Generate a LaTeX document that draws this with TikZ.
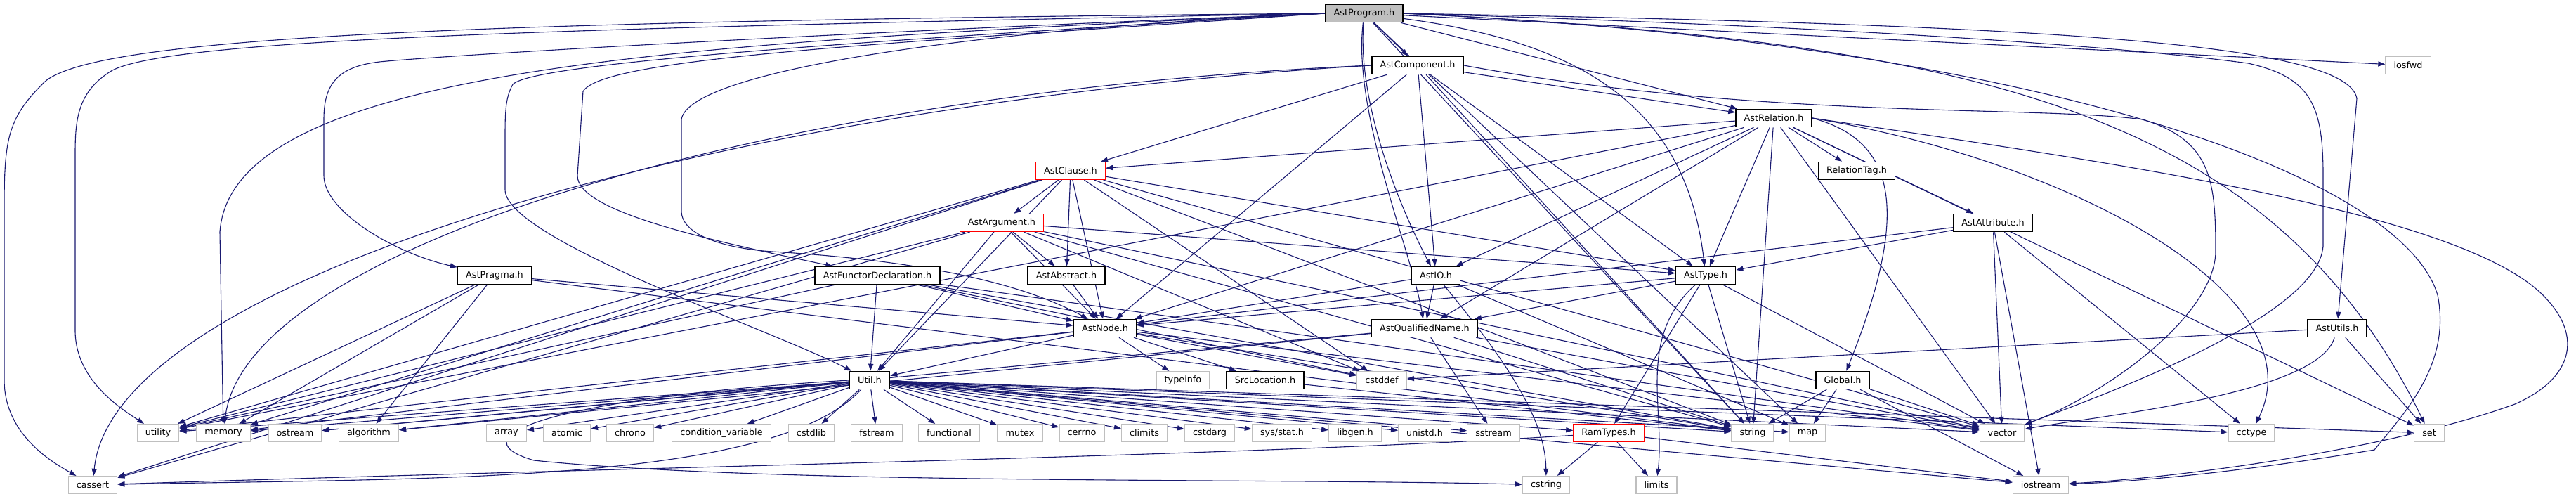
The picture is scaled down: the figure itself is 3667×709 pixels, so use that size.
\documentclass[tikz,border=0pt]{standalone}
\usepackage{fontspec}
\setmainfont{DejaVu Sans}
\usetikzlibrary{arrows.meta,backgrounds}
\definecolor{edgeblue}{HTML}{191970}
\definecolor{sysgray}{HTML}{BFBFBF}
\begin{document}
\begin{tikzpicture}[x=0.5pt,y=-0.5pt,
  every node/.style={font=\fontsize{6.4}{7.5}\selectfont,inner xsep=5.8pt,inner ysep=0pt,minimum height=12.5pt,fill=white},
  hdr/.style={draw=black,line width=.8pt},
  sys/.style={draw=sysgray,line width=.6pt},
  trunc/.style={draw=red,line width=.6pt},
  root/.style={draw=black,line width=.8pt,fill=sysgray},
  dep/.style={draw=edgeblue,line width=.55pt,-{Triangle[length=5pt,width=3.6pt]}}]
\useasboundingbox (0,0) rectangle (3667,709);
% headers of the project
\node[root] (prog) at (1942,19) {AstProgram.h};
\node[hdr] (comp) at (2018,93) {AstComponent.h};
\node[sys] (iosfwd) at (3428,93) {iosfwd};
\node[hdr] (rel) at (2525,168) {AstRelation.h};
\node[trunc] (clause) at (1524,243) {AstClause.h};
\node[hdr] (reltag) at (2643,243) {RelationTag.h};
\node[trunc] (arg) at (1426,317) {AstArgument.h};
\node[hdr] (attr) at (2837,317) {AstAttribute.h};
\node[hdr] (pragma) at (704,392) {AstPragma.h};
\node[hdr] (functor) at (1249,392) {AstFunctorDeclaration.h};
\node[hdr] (abstract) at (1518,392) {AstAbstract.h};
\node[hdr] (io) at (2044,392) {AstIO.h};
\node[hdr] (type) at (2428,392) {AstType.h};
\node[hdr] (astnode) at (1573,467) {AstNode.h};
\node[hdr] (qname) at (2028,467) {AstQualifiedName.h};
\node[hdr] (astutils) at (3327,467) {AstUtils.h};
\node[hdr] (util) at (1238,541) {Util.h};
\node[sys] (typeinfo) at (1684,541) {typeinfo};
\node[hdr] (srcloc) at (1801,541) {SrcLocation.h};
\node[sys] (cstddef) at (1967,541) {cstddef};
\node[hdr] (global) at (2623,541) {Global.h};
% system headers
\node[sys] (utility) at (225,616) {utility};
\node[sys] (memory) at (318,616) {memory};
\node[sys] (ostream) at (420,616) {ostream};
\node[sys] (algorithm) at (525,616) {algorithm};
\node[sys] (array) at (721,616) {array};
\node[sys] (atomic) at (807,616) {atomic};
\node[sys] (chrono) at (897,616) {chrono};
\node[sys] (condvar) at (1027,616) {condition\_variable};
\node[sys] (cstdlib) at (1155,616) {cstdlib};
\node[sys] (fstream) at (1248,616) {fstream};
\node[sys] (functional) at (1351,616) {functional};
\node[sys] (mutex) at (1452,616) {mutex};
\node[sys] (cerrno) at (1540,616) {cerrno};
\node[sys] (climits) at (1629,616) {climits};
\node[sys] (cstdarg) at (1722,616) {cstdarg};
\node[sys] (sysstat) at (1825,616) {sys/stat.h};
\node[sys] (libgen) at (1929,616) {libgen.h};
\node[sys] (unistd) at (2028,616) {unistd.h};
\node[sys] (sstream) at (2126,616) {sstream};
\node[trunc] (ramtypes) at (2290,616) {RamTypes.h};
\node[sys] (string) at (2495,616) {string};
\node[sys] (map) at (2573,616) {map};
\node[sys] (vector) at (2850,616) {vector};
\node[sys] (cctype) at (3205,616) {cctype};
\node[sys] (set) at (3458,616) {set};
\node[sys] (cassert) at (132,690) {cassert};
\node[sys] (cstring) at (2201,690) {cstring};
\node[sys] (limits) at (2358,690) {limits};
\node[sys] (iostream) at (2905,690) {iostream};

\begin{pgfonlayer}{background}
% AstProgram.h
\draw[dep] (prog) -- (comp);
\draw[dep] (prog) -- (rel);
\draw[dep] (prog) .. controls (1932,150) and (1995,300) .. (io);
\draw[dep] (prog) .. controls (1925,160) and (2010,360) .. (qname);
\draw[dep] (prog) .. controls (2250,60) and (2400,150) .. (type);
\draw[dep] (prog) -- (iosfwd);
\draw[dep] (prog) -- (string);
\draw[dep] (prog) -- (map);
\draw[dep] (prog.west) .. controls (700,30) and (120,50) .. (60,120) .. controls (10,170) and (6,200) .. (6,300) -- (6,540) .. controls (6,610) and (60,650) .. (cassert);
\draw[dep] (prog.west) .. controls (800,40) and (250,55) .. (160,100) .. controls (110,130) and (107,170) .. (107,220) -- (107,470) .. controls (107,540) and (170,580) .. (utility);
\draw[dep] (prog.west) .. controls (1000,60) and (330,90) .. (313,330) -- (memory);
\draw[dep] (prog.west) .. controls (1100,50) and (620,80) .. (540,88) .. controls (480,95) and (461,120) .. (461,170) -- (461,250) .. controls (461,300) and (560,360) .. (pragma);
\draw[dep] (prog.west) .. controls (1200,60) and (760,90) .. (730,120) .. controls (719,140) and (719,160) .. (719,200) -- (719,270) .. controls (719,340) and (1100,470) .. (util);
\draw[dep] (prog.west) .. controls (1300,60) and (860,80) .. (830,130) -- (822,250) .. controls (822,300) and (1000,340) .. (functor);
\draw[dep] (prog.west) .. controls (1400,40) and (980,100) .. (970,170) -- (970,300) .. controls (970,340) and (1050,355) .. (1100,358) .. controls (1300,370) and (1450,400) .. (astnode);
\draw[dep] (prog.east) .. controls (2900,35) and (3340,60) .. (3355,140) -- (astutils);
\draw[dep] (prog.east) .. controls (2700,40) and (3050,70) .. (3200,90) .. controls (3290,110) and (3307,150) .. (3307,250) -- (3307,350) .. controls (3300,450) and (3000,560) .. (vector);
\draw[dep] (prog.east) .. controls (2900,60) and (3420,250) .. (3470,420) .. controls (3490,520) and (3420,590) .. (3380,640) .. controls (3200,670) and (3050,685) .. (iostream);
\draw[dep] (prog.east) .. controls (2800,60) and (3230,150) .. (set);
% AstComponent.h
\draw[dep] (comp) -- (rel);
\draw[dep] (comp) -- (clause);
\draw[dep] (comp) -- (astnode);
\draw[dep] (comp) -- (io);
\draw[dep] (comp) -- (type);
\draw[dep] (comp) -- (string);
\draw[dep] (comp.west) .. controls (1000,150) and (160,400) .. (cassert);
\draw[dep] (comp.west) .. controls (1100,130) and (350,350) .. (memory);
\draw[dep] (comp.east) .. controls (2500,170) and (2900,150) .. (3050,170) .. controls (3150,200) and (3154,260) .. (3154,360) .. controls (3150,450) and (3000,560) .. (vector);
% AstRelation.h
\draw[dep] (rel) -- (attr);
\draw[dep] (rel) -- (clause);
\draw[dep] (rel) -- (reltag);
\draw[dep] (rel) -- (io);
\draw[dep] (rel) -- (astnode);
\draw[dep] (rel) -- (qname);
\draw[dep] (rel) -- (type);
\draw[dep] (rel.east) .. controls (2700,200) and (2720,300) .. (global);
\draw[dep] (rel) -- (string);
\draw[dep] (rel) -- (set);
\draw[dep] (rel) -- (vector);
\draw[dep] (rel) -- (utility);
\draw[dep] (rel.east) .. controls (2950,230) and (3300,420) .. (cctype);
\draw[dep] (rel.east) .. controls (3000,230) and (3500,300) .. (3620,420) .. controls (3680,480) and (3660,540) .. (3580,575) .. controls (3400,640) and (3100,680) .. (iostream);
% AstClause.h
\draw[dep] (clause) -- (arg);
\draw[dep] (clause) -- (abstract);
\draw[dep] (clause) -- (astnode);
\draw[dep] (clause) -- (type);
\draw[dep] (clause) -- (util);
\draw[dep] (clause) -- (cstddef);
\draw[dep] (clause) -- (memory);
\draw[dep] (clause) -- (utility);
\draw[dep] (clause) -- (cassert);
\draw[dep] (clause) -- (string);
\draw[dep] (clause) -- (vector);
% AstArgument.h
\draw[dep] (arg) -- (abstract);
\draw[dep] (arg) -- (astnode);
\draw[dep] (arg) -- (type);
\draw[dep] (arg) -- (util);
\draw[dep] (arg) -- (cstddef);
\draw[dep] (arg) -- (utility);
\draw[dep] (arg) -- (cassert);
\draw[dep] (arg) -- (string);
\draw[dep] (arg) -- (vector);
% AstAttribute.h
\draw[dep] (attr) -- (astnode);
\draw[dep] (attr) -- (type);
\draw[dep] (attr) -- (vector);
\draw[dep] (attr) -- (cctype);
\draw[dep] (attr) -- (iostream);
% AstPragma.h
\draw[dep] (pragma) -- (astnode);
\draw[dep] (pragma) -- (string);
\draw[dep] (pragma) -- (utility);
\draw[dep] (pragma) -- (memory);
\draw[dep] (pragma) -- (algorithm);
% AstFunctorDeclaration.h
\draw[dep] (functor) -- (astnode);
\draw[dep] (functor) -- (util);
\draw[dep] (functor) -- (utility);
\draw[dep] (functor) -- (cstddef);
\draw[dep] (functor) -- (string);
\draw[dep] (functor) -- (vector);
% AstAbstract.h
\draw[dep] (abstract) -- (astnode);
% AstIO.h
\draw[dep] (io) -- (astnode);
\draw[dep] (io) -- (qname);
\draw[dep] (io) -- (map);
\draw[dep] (io) .. controls (2150,520) and (2200,600) .. (cstring);
% AstType.h
\draw[dep] (type) -- (astnode);
\draw[dep] (type) -- (qname);
\draw[dep] (type) -- (ramtypes);
\draw[dep] (type) -- (string);
\draw[dep] (type) -- (vector);
\draw[dep] (type) .. controls (2330,480) and (2370,580) .. (limits);
% AstNode.h
\draw[dep] (astnode) -- (srcloc);
\draw[dep] (astnode) -- (typeinfo);
\draw[dep] (astnode) -- (util);
\draw[dep] (astnode) -- (cstddef);
\draw[dep] (astnode) -- (memory);
\draw[dep] (astnode) -- (utility);
\draw[dep] (astnode) -- (string);
\draw[dep] (astnode) -- (vector);
% AstQualifiedName.h
\draw[dep] (qname) -- (algorithm);
\draw[dep] (qname) -- (ostream);
\draw[dep] (qname) -- (sstream);
\draw[dep] (qname) -- (string);
\draw[dep] (qname) -- (vector);
% AstUtils.h
\draw[dep] (astutils) -- (cstddef);
\draw[dep] (astutils) .. controls (3300,560) and (3000,590) .. (vector);
\draw[dep] (astutils) -- (set);
% Util.h
\draw[dep] (util) -- (utility);
\draw[dep] (util) -- (memory);
\draw[dep] (util) -- (ostream);
\draw[dep] (util) -- (algorithm);
\draw[dep] (util) -- (array);
\draw[dep] (util) -- (atomic);
\draw[dep] (util) -- (chrono);
\draw[dep] (util) -- (condvar);
\draw[dep] (util) -- (cstdlib);
\draw[dep] (util) -- (fstream);
\draw[dep] (util) -- (functional);
\draw[dep] (util) -- (mutex);
\draw[dep] (util) -- (cerrno);
\draw[dep] (util) -- (climits);
\draw[dep] (util) -- (cstdarg);
\draw[dep] (util) -- (sysstat);
\draw[dep] (util) -- (libgen);
\draw[dep] (util) -- (unistd);
\draw[dep] (util) -- (sstream);
\draw[dep] (util) -- (ramtypes);
\draw[dep] (util) -- (string);
\draw[dep] (util) -- (map);
\draw[dep] (util) -- (vector);
\draw[dep] (util) -- (cctype);
\draw[dep] (util) -- (set);
\draw[dep] (util) -- (iostream);
\draw[dep] (util) .. controls (1100,690) and (600,680) .. (cassert);
\draw[dep] (util.west) .. controls (800,565) and (640,620) .. (760,655) .. controls (1100,690) and (1800,680) .. (cstring);
% SrcLocation.h, RamTypes.h, Global.h
\draw[dep] (srcloc) -- (string);
\draw[dep] (ramtypes) .. controls (1800,648) and (900,665) .. (cassert);
\draw[dep] (ramtypes) -- (cstring);
\draw[dep] (ramtypes) -- (limits);
\draw[dep] (ramtypes) -- (iostream);
\draw[dep] (global) -- (string);
\draw[dep] (global) -- (map);
\draw[dep] (global) -- (vector);
\draw[dep] (global) -- (iostream);
\end{pgfonlayer}
\end{tikzpicture}
\end{document}
